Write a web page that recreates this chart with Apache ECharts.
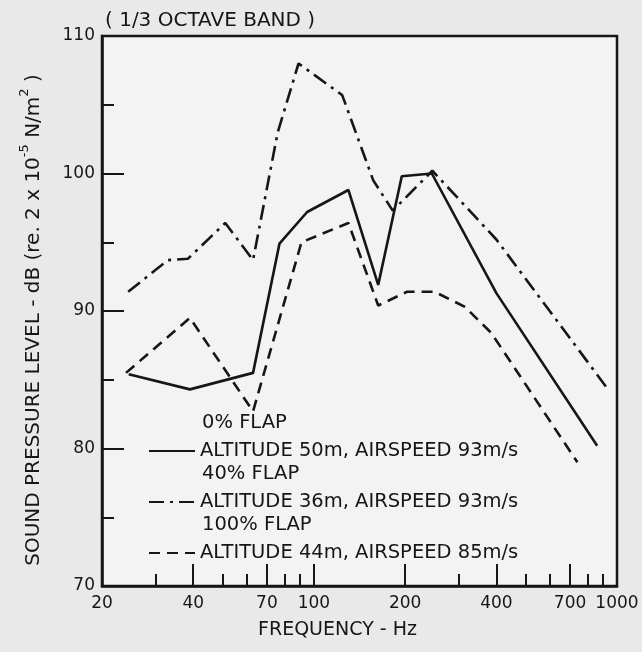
<!DOCTYPE html>
<html><head><meta charset="utf-8">
<script src="https://cdn.jsdelivr.net/npm/echarts@6/dist/echarts.min.js"></script>
<style>html,body{margin:0;padding:0;background:#e9e9e9}#c{width:642px;height:652px}</style>
</head><body><div id="c"></div>
<script>
// Tick values
const freqTickLabels = [20, 40, 70, 100, 200, 400, 700, 1000];
const freqMajorTicks = [40, 70, 100, 200, 400, 700];
const freqMinorTicks = [30, 50, 60, 80, 90, 300, 500, 600, 800, 900];

// 0% FLAP — altitude 50 m, airspeed 93 m/s (solid)
const flap0Freq = [24.5, 39, 63, 77, 95, 130, 163, 195, 245, 400, 860];
const flap0Spl  = [85.4, 84.3, 85.5, 94.9, 97.2, 98.8, 91.9, 99.8, 100.0, 91.3, 80.2];

// 40% FLAP — altitude 36 m, airspeed 93 m/s (dash-dot)
const flap40Freq = [24.4, 33, 38.4, 51, 63, 76, 89, 124, 157, 182, 246, 400, 920];
const flap40Spl  = [91.4, 93.7, 93.8, 96.4, 93.7, 103.0, 108.0, 105.7, 99.5, 97.3, 100.2, 95.2, 84.5];

// 100% FLAP — altitude 44 m, airspeed 85 m/s (dashed)
const flap100Freq = [24, 39, 63, 91, 130, 163, 203, 250, 315, 385, 740];
const flap100Spl  = [85.5, 89.5, 82.7, 95.0, 96.4, 90.4, 91.4, 91.4, 90.3, 88.4, 79.0];

const legendNames = ['ALTITUDE 50m, AIRSPEED 93m/s', 'ALTITUDE 36m, AIRSPEED 93m/s', 'ALTITUDE 44m, AIRSPEED 85m/s'];
const flapHeaders = ['0% FLAP', '40% FLAP', '100% FLAP'];

const FONT = 'DejaVu Sans';
const INK = '#161616';
const pairs = (xs, ys) => xs.map((x, i) => [x, ys[i]]);

const chart = echarts.init(document.getElementById('c'), null, {renderer: 'canvas'});
chart.setOption({
  backgroundColor: '#e9e9e9',
  animation: false,
  textStyle: {fontFamily: FONT, color: INK},
  title: {
    text: '( 1/3 OCTAVE BAND )', left: 100, top: 6,
    textStyle: {fontFamily: FONT, fontSize: 20, fontWeight: 'normal', color: INK}
  },
  grid: {left: 102, right: 25, top: 36, bottom: 66, show: true,
         borderColor: INK, borderWidth: 2.5, backgroundColor: '#f3f3f3'},
  xAxis: [{
    type: 'log', logBase: 10, min: 20, max: 1000, position: 'bottom',
    name: 'FREQUENCY - Hz', nameLocation: 'middle', nameGap: 35,
    nameTextStyle: {fontFamily: FONT, fontSize: 19, color: INK, padding: [0, 44, 0, 0]},
    axisLine: {show: true, lineStyle: {color: INK, width: 2.5}},
    axisTick: {show: true, inside: true, length: 22, customValues: freqMajorTicks,
               lineStyle: {color: INK, width: 2}},
    axisLabel: {show: true, customValues: freqTickLabels, margin: 9,
                fontFamily: FONT, fontSize: 17, color: INK, formatter: v => String(Math.round(v))},
    splitLine: {show: false}, minorTick: {show: false}
  }, {
    type: 'log', logBase: 10, min: 20, max: 1000, position: 'bottom',
    axisLine: {show: false},
    axisTick: {show: true, inside: true, length: 12, customValues: freqMinorTicks,
               lineStyle: {color: INK, width: 2}},
    axisLabel: {show: false}, splitLine: {show: false}
  }],
  yAxis: {
    type: 'value', min: 70, max: 110, interval: 10,
    name: '{a|SOUND PRESSURE LEVEL - dB (re. 2 x 10}{s|-5}{a| N/m}{s|2}{a| )}',
    nameLocation: 'middle', nameRotate: 90, nameGap: 58,
    nameTextStyle: {padding: [0, 18, 0, 0],
      rich: {a: {fontFamily: FONT, fontSize: 20, color: INK, lineHeight: 26, verticalAlign: 'bottom'},
             s: {fontFamily: FONT, fontSize: 13, color: INK, lineHeight: 24, verticalAlign: 'top'}}},
    axisLine: {show: true, lineStyle: {color: INK, width: 2.5}},
    axisTick: {show: true, inside: true, length: 22, lineStyle: {color: INK, width: 2}},
    minorTick: {show: true, splitNumber: 2, length: 12, lineStyle: {color: INK, width: 2}},
    axisLabel: {margin: 7, fontFamily: FONT, fontSize: 17, color: INK},
    splitLine: {show: false}, minorSplitLine: {show: false}
  },
  legend: {
    orient: 'vertical', left: 148, top: 440, itemWidth: 46, itemHeight: 14, itemGap: 29,
    padding: 0,
    textStyle: {fontFamily: FONT, fontSize: 19.5, color: INK, lineHeight: 22},
    itemStyle: {color: 'transparent', borderWidth: 0, opacity: 0},
    data: legendNames
  },
  graphic: flapHeaders.map((t, i) => ({
    type: 'text', left: 202, top: 413 + i * 51,
    style: {text: t, font: '19.5px "DejaVu Sans"', fill: INK}
  })),
  series: [
    {name: legendNames[0], type: 'line', symbol: 'none', data: pairs(flap0Freq, flap0Spl),
     lineStyle: {color: INK, width: 2.6, type: 'solid'}, itemStyle: {color: INK}},
    {name: legendNames[1], type: 'line', symbol: 'none', data: pairs(flap40Freq, flap40Spl),
     lineStyle: {color: INK, width: 2.6, type: [15, 6, 3, 6]}, itemStyle: {color: INK}},
    {name: legendNames[2], type: 'line', symbol: 'none', data: pairs(flap100Freq, flap100Spl),
     lineStyle: {color: INK, width: 2.6, type: [11, 7]}, itemStyle: {color: INK}}
  ]
});
</script></body></html>
